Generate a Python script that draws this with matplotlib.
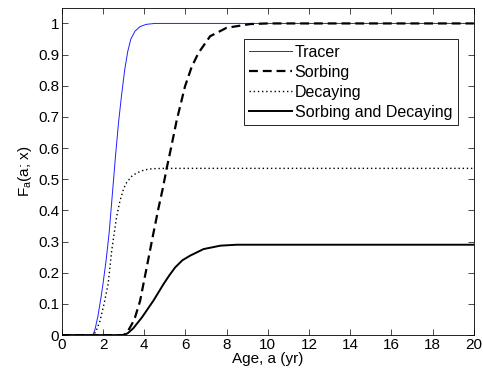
import matplotlib
matplotlib.use('Agg')
import matplotlib.pyplot as plt

# settings
plt.rcParams.update({'font.family': 'Liberation Sans', 'font.size': 11,
                     'mathtext.default': 'regular'})

# data
tracer_x = [0, 1.5, 1.6, 1.75, 1.9, 2.0, 2.15, 2.3, 2.45, 2.6, 2.75, 2.9, 3.05, 3.2, 3.35, 3.55, 3.8, 4.1, 4.5, 20]
tracer_y = [0, 0, 0.015, 0.06, 0.12, 0.165, 0.24, 0.33, 0.45, 0.57, 0.68, 0.77, 0.85, 0.91, 0.95, 0.975, 0.99, 0.997, 1.0, 1.0]

sorbing_x = [0, 3.0, 3.2, 3.4, 3.55, 3.8, 4.12, 4.44, 4.7, 4.9, 5.09, 5.3, 5.58, 5.98, 6.3, 6.63, 7.2, 8.0, 9.15, 10, 20]
sorbing_y = [0, 0, 0.012, 0.035, 0.056, 0.11, 0.217, 0.325, 0.41, 0.47, 0.535, 0.6, 0.69, 0.798, 0.86, 0.905, 0.959, 0.986, 0.998, 1.0, 1.0]

decaying_x = [0, 1.5, 1.65, 1.85, 2.05, 2.25, 2.42, 2.55, 2.66, 2.82, 3.0, 3.15, 3.4, 3.63, 4.0, 4.4, 5.0, 20]
decaying_y = [0, 0, 0.01, 0.045, 0.1, 0.165, 0.27, 0.33, 0.38, 0.43, 0.47, 0.49, 0.51, 0.52, 0.53, 0.534, 0.535, 0.535]

both_x = [0, 3.0, 3.2, 3.47, 3.88, 4.15, 4.44, 4.7, 4.93, 5.2, 5.5, 5.85, 6.23, 6.88, 7.7, 8.5, 20]
both_y = [0, 0, 0.006, 0.022, 0.056, 0.082, 0.11, 0.138, 0.163, 0.19, 0.217, 0.24, 0.255, 0.276, 0.287, 0.29, 0.29]

labels = ['Tracer', 'Sorbing', 'Decaying', 'Sorbing and Decaying']

fig = plt.figure(figsize=(4.83, 3.74), dpi=100)
ax = fig.add_axes([0.128, 0.104, 0.853, 0.875])

ax.plot(tracer_x, tracer_y, color='#2020ff', lw=0.7, label=labels[0])
ax.plot(sorbing_x, sorbing_y, color='black', lw=1.6, ls=(0, (4, 2.2)), label=labels[1])
ax.plot(decaying_x, decaying_y, color='black', lw=1.0, ls=(0, (1, 2)), label=labels[2])
ax.plot(both_x, both_y, color='black', lw=1.4, label=labels[3])

ax.set_xlim(0, 20)
ax.set_ylim(0, 1.05)
ax.set_xticks(range(0, 21, 2))
ax.set_yticks([i / 10 for i in range(11)])
ax.set_yticklabels(['0', '0.1', '0.2', '0.3', '0.4', '0.5', '0.6', '0.7', '0.8', '0.9', '1'])
ax.tick_params(direction='in', top=True, right=True, length=4, width=0.5, pad=2)
for s in ax.spines.values():
    s.set_linewidth(0.6)

ax.set_xlabel('Age, a (yr)', labelpad=0)
ax.set_ylabel('F$_a$(a; x)', labelpad=3)

leg = ax.legend(loc='upper right', bbox_to_anchor=(0.961, 0.905), fancybox=False,
                framealpha=1, edgecolor='black', borderpad=0.35, labelspacing=0.32,
                handlelength=2.7, handletextpad=0.15, borderaxespad=0,
                prop={'size': 11.5})
leg.get_frame().set_linewidth(0.6)

fig.savefig('out.png', dpi=100)
